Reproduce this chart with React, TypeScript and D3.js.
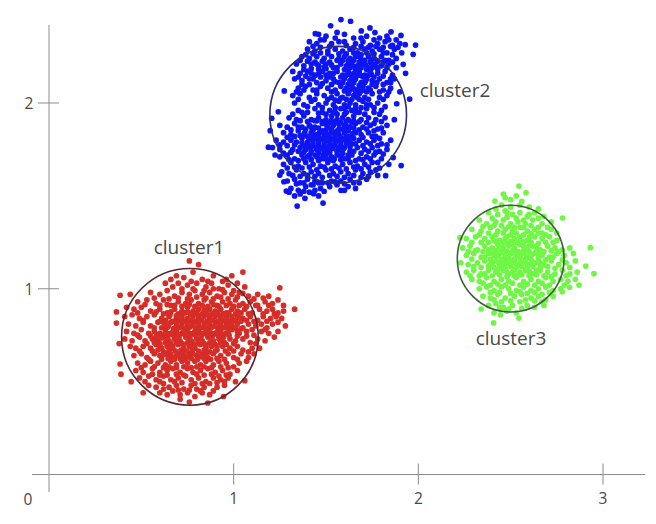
import React, { useEffect, useRef } from 'react';
import * as d3 from 'd3';

const xTicks = [1, 2, 3];
const yTicks = [1, 2];
const clusterNames = ['cluster1', 'cluster2', 'cluster3'];
const clusterCenters = [[0.763, 0.741], [1.566, 1.937], [2.5, 1.162]];
const clusterRadii = [0.37, 0.37, 0.289];
const clusterColors = ['#d62d28', '#0a14f2', '#6ff745'];
const ringColors = ['#5c2630', '#2b2c72', '#3f5f3c'];

const redPoints = [
	[.76,1.15],[.81,1.13],[1.05,1.09],[1.25,1.005],[1.33,.89],[1.27,.91],[1.28,.8],[1.24,.77],[.385,.965],[.44,.97],[.365,.875],[.365,.815],[.38,.705],[.385,.595],[.39,.54],[.445,.5],[.51,.44],[.86,.385],[.945,.42],[1.06,.505],[.76,.39],[.71,.405],
	[.69,1.07],[.73,1.06],[.78,1.09],[.83,1.05],[.89,1.07],[.94,1.04],[.99,1.07],
	[.63,1.03],[.67,1.01],[.7,1.03],[.75,1.02],[.8,1.03],[.85,1.01],[.88,1.03],[.92,1.0],[.97,1.02],[1.02,1.03],[1.06,1.01],
	[.55,.98],[.6,.97],[.64,.99],[.68,.96],[.72,.98],[.76,.97],[.79,.99],[.83,.97],[.87,.98],[.91,.96],[.95,.98],[.99,.97],[1.03,.98],[1.08,.96],[1.13,.97],[1.19,.96],
	[.48,.93],[.53,.94],[.58,.92],[.62,.94],[.66,.91],[.7,.93],[.74,.92],[.77,.94],[.81,.92],[.84,.94],[.88,.93],[.91,.91],[.94,.93],[.98,.92],[1.01,.94],[1.05,.92],[1.09,.93],[1.13,.91],[1.17,.93],[1.21,.92],[1.24,.94],
	[.42,.9],[.46,.89],[.5,.9],[.55,.88],[.6,.89],[.64,.87],[.68,.89],[.72,.88],[.75,.9],[.78,.88],[.81,.89],[.84,.87],[.87,.89],[.9,.88],[.93,.89],[.96,.87],[.99,.89],[1.02,.88],[1.06,.89],[1.1,.87],[1.14,.89],[1.18,.88],[1.21,.89],[1.24,.87],[1.27,.88],
	[.41,.85],[.45,.86],[.49,.84],[.53,.85],[.57,.86],[.61,.84],[.65,.85],[.69,.84],[.72,.86],[.75,.84],[.78,.85],[.81,.84],[.84,.85],[.87,.84],[.9,.85],[.93,.84],[.96,.85],[.99,.83],[1.02,.85],[1.05,.84],[1.09,.85],[1.13,.83],[1.16,.85],[1.2,.84],[1.23,.85],[1.26,.84],
	[.43,.81],[.47,.8],[.51,.82],[.55,.8],[.59,.82],[.63,.8],[.66,.82],[.69,.8],[.72,.81],[.75,.8],[.78,.82],[.81,.8],[.84,.81],[.87,.8],[.9,.82],[.93,.8],[.96,.81],[.99,.8],[1.02,.81],[1.05,.79],[1.08,.81],[1.12,.8],[1.15,.81],[1.18,.79],[1.21,.81],
	[.42,.77],[.46,.76],[.5,.78],[.54,.76],[.57,.77],[.6,.76],[.63,.78],[.66,.76],[.69,.77],[.72,.76],[.75,.78],[.78,.76],[.81,.77],[.84,.76],[.87,.78],[.9,.76],[.93,.77],[.96,.76],[.99,.78],[1.03,.76],[1.07,.77],[1.11,.75],[1.15,.77],[1.19,.76],[1.22,.74],
	[.41,.73],[.45,.72],[.49,.74],[.52,.72],[.56,.73],[.59,.72],[.62,.74],[.65,.72],[.68,.73],[.71,.72],[.74,.74],[.77,.72],[.8,.73],[.83,.72],[.86,.74],[.89,.72],[.92,.73],[.95,.71],[.98,.73],[1.01,.72],[1.05,.73],[1.09,.71],[1.13,.73],[1.17,.72],
	[.44,.69],[.47,.68],[.51,.69],[.55,.68],[.58,.7],[.61,.68],[.64,.69],[.67,.68],[.7,.7],[.73,.68],[.76,.69],[.79,.68],[.82,.7],[.85,.68],[.88,.69],[.91,.67],[.94,.69],[.98,.68],[1.02,.69],[1.05,.67],[1.1,.68],[1.14,.68],
	[.46,.64],[.5,.65],[.53,.63],[.57,.65],[.6,.64],[.64,.65],[.67,.63],[.7,.65],[.73,.64],[.76,.65],[.8,.64],[.83,.65],[.86,.63],[.89,.65],[.93,.64],[.97,.65],[1.0,.63],[1.04,.65],[1.08,.63],[1.11,.65],
	[.48,.6],[.52,.59],[.55,.61],[.59,.6],[.63,.59],[.66,.61],[.69,.59],[.72,.61],[.75,.6],[.79,.61],[.82,.59],[.85,.61],[.89,.59],[.92,.61],[.96,.6],[1.0,.58],[1.03,.6],[1.07,.61],
	[.47,.56],[.51,.55],[.56,.57],[.6,.55],[.64,.56],[.67,.57],[.71,.55],[.75,.57],[.78,.55],[.82,.56],[.86,.57],[.9,.55],[.94,.56],[.98,.54],[1.02,.56],
	[.49,.52],[.54,.53],[.58,.51],[.62,.53],[.66,.51],[.7,.52],[.74,.53],[.77,.51],[.81,.52],[.85,.5],[.89,.52],[.93,.51],[.97,.52],[1.01,.5],
	[.54,.48],[.58,.47],[.62,.49],[.65,.47],[.69,.48],[.73,.46],[.77,.48],[.8,.46],[.84,.47],[.87,.49],[.91,.47],[.95,.48],
	[.6,.44],[.64,.43],[.67,.45],[.71,.43],[.75,.44],[.79,.42],[.83,.44],[.87,.43],
];

// second pass over the red cloud, the busy middle
const redCore = [
	[.66,1.05],[.77,1.04],[.86,1.04],[.96,1.05],[.72,1.0],[.78,1.0],[.84,.99],[.89,1.0],[.94,.995],[1.0,.99],[1.05,.975],
	[.57,.95],[.65,.945],[.7,.95],[.75,.945],[.8,.955],[.85,.95],[.89,.945],[.93,.955],[.97,.945],[1.02,.955],[1.11,.945],[1.16,.95],
	[.52,.915],[.6,.91],[.64,.915],[.68,.91],[.72,.905],[.76,.915],[.79,.905],[.83,.91],[.86,.905],[.89,.915],[.92,.905],[.96,.91],[1.0,.905],[1.03,.91],[1.07,.905],[1.12,.91],[1.19,.91],
	[.48,.87],[.58,.875],[.62,.865],[.66,.875],[.7,.865],[.735,.87],[.765,.865],[.8,.87],[.83,.865],[.855,.87],[.885,.865],[.915,.87],[.945,.865],[.975,.87],[1.01,.865],[1.04,.87],[1.08,.865],[1.16,.865],[1.22,.865],
	[.51,.83],[.6,.825],[.63,.83],[.67,.825],[.705,.83],[.735,.825],[.765,.83],[.795,.825],[.825,.83],[.855,.825],[.885,.83],[.915,.825],[.945,.83],[.975,.825],[1.01,.83],[1.04,.825],[1.07,.83],[1.11,.825],[1.18,.825],[1.24,.82],
	[.57,.79],[.61,.79],[.645,.795],[.675,.785],[.705,.79],[.735,.785],[.765,.795],[.795,.785],[.825,.79],[.855,.785],[.885,.795],[.915,.785],[.945,.79],[.975,.785],[1.01,.79],[1.04,.785],[1.1,.78],[1.17,.78],
	[.48,.75],[.55,.745],[.585,.75],[.615,.755],[.645,.745],[.675,.75],[.705,.745],[.735,.755],[.765,.745],[.795,.75],[.825,.745],[.855,.755],[.885,.745],[.915,.75],[.945,.74],[.975,.75],[1.02,.745],[1.07,.745],
	[.53,.705],[.57,.71],[.6,.705],[.63,.71],[.66,.705],[.69,.71],[.72,.705],[.75,.71],[.78,.705],[.81,.71],[.84,.705],[.87,.71],[.9,.7],[.93,.71],[.96,.7],[1.0,.705],[1.12,.705],
	[.49,.665],[.56,.665],[.59,.67],[.62,.66],[.65,.67],[.685,.665],[.715,.67],[.745,.665],[.775,.67],[.81,.665],[.84,.67],[.87,.66],[.9,.665],[.955,.665],[1.0,.665],[1.08,.66],
	[.54,.62],[.61,.62],[.645,.625],[.68,.62],[.71,.625],[.74,.62],[.77,.625],[.805,.62],[.84,.625],[.875,.62],[.91,.625],[.95,.62],[1.02,.62],
	[.5,.575],[.57,.58],[.62,.575],[.65,.58],[.69,.575],[.73,.58],[.77,.575],[.8,.58],[.84,.58],[.88,.575],[.93,.58],[.97,.575],
	[.56,.54],[.6,.535],[.64,.535],[.69,.54],[.73,.535],[.8,.54],[.84,.535],[.88,.54],[.92,.53],[.96,.535],
	[.52,.5],[.6,.5],[.68,.5],[.72,.495],[.79,.49],[.83,.49],[.91,.495],[.95,.5],
	[.62,.46],[.7,.455],[.76,.455],[.82,.45],[.89,.45],
	// the solid patch
	[.655,.86],[.69,.855],[.72,.845],[.75,.875],[.78,.865],[.81,.855],[.84,.885],[.87,.855],[.9,.865],[.93,.855],[.96,.835],[.99,.85],[1.03,.845],
	[.62,.82],[.65,.81],[.69,.815],[.72,.795],[.75,.82],[.78,.805],[.81,.82],[.84,.795],[.87,.82],[.9,.8],[.93,.815],[.96,.795],[.99,.815],[1.02,.77],
	[.58,.74],[.61,.735],[.64,.76],[.67,.765],[.7,.755],[.73,.77],[.76,.76],[.79,.77],[.82,.76],[.85,.77],[.88,.76],[.91,.765],[.94,.755],[.97,.77],
	[.6,.695],[.64,.725],[.67,.69],[.7,.72],[.73,.7],[.76,.725],[.79,.695],[.82,.72],[.85,.695],[.88,.72],[.91,.69],[.94,.725],
	[.62,.645],[.66,.65],[.69,.64],[.72,.655],[.75,.635],[.78,.65],[.82,.635],[.85,.65],
];

const bluePoints = [
	[1.581,2.449],[1.633,2.44],[1.525,2.416],[1.738,2.404],[1.691,2.388],[1.765,2.379],[1.852,2.383],[1.906,2.364],[1.442,2.373],[1.985,2.312],[1.972,2.262],[1.929,2.314],[1.918,2.208],[1.931,2.16],[1.953,2.021],[1.883,1.996],[1.274,2.065],[1.242,1.953],[1.206,1.918],[1.198,1.851],[1.188,1.762],[1.224,1.72],[1.25,1.612],[1.272,1.576],[1.285,1.526],[1.344,1.445],[1.386,1.487],[1.484,1.461],[1.433,1.512],[1.581,1.53],[1.907,1.663],[1.864,1.706],[1.823,1.609],
	[1.46,2.37],[1.5,2.36],[1.56,2.38],[1.6,2.37],[1.65,2.35],[1.72,2.36],[1.79,2.35],[1.83,2.36],[1.88,2.34],
	[1.41,2.33],[1.45,2.32],[1.49,2.34],[1.53,2.32],[1.57,2.33],[1.61,2.31],[1.66,2.32],[1.7,2.33],[1.74,2.31],[1.78,2.32],[1.82,2.33],[1.86,2.31],[1.9,2.32],
	[1.4,2.29],[1.44,2.28],[1.47,2.3],[1.51,2.28],[1.55,2.29],[1.59,2.28],[1.63,2.29],[1.67,2.27],[1.71,2.29],[1.75,2.28],[1.79,2.29],[1.83,2.27],[1.87,2.29],[1.91,2.27],
	[1.37,2.25],[1.41,2.24],[1.45,2.25],[1.49,2.24],[1.53,2.25],[1.56,2.23],[1.6,2.25],[1.63,2.24],[1.66,2.25],[1.7,2.23],[1.73,2.25],[1.76,2.24],[1.8,2.25],[1.84,2.23],[1.88,2.24],
	[1.34,2.21],[1.38,2.2],[1.42,2.21],[1.46,2.2],[1.5,2.21],[1.54,2.19],[1.58,2.21],[1.61,2.2],[1.64,2.21],[1.67,2.2],[1.7,2.21],[1.73,2.19],[1.76,2.21],[1.8,2.2],[1.84,2.21],[1.88,2.19],
	[1.32,2.17],[1.36,2.16],[1.4,2.17],[1.44,2.15],[1.48,2.17],[1.52,2.16],[1.56,2.17],[1.59,2.15],[1.62,2.17],[1.65,2.16],[1.68,2.17],[1.71,2.15],[1.74,2.17],[1.78,2.16],[1.82,2.17],[1.86,2.15],
	[1.33,2.13],[1.37,2.12],[1.41,2.13],[1.45,2.11],[1.5,2.12],[1.54,2.13],[1.57,2.11],[1.6,2.13],[1.63,2.12],[1.66,2.13],[1.69,2.11],[1.72,2.13],[1.75,2.12],[1.79,2.13],[1.83,2.11],[1.87,2.13],
	[1.35,2.08],[1.39,2.09],[1.43,2.07],[1.47,2.09],[1.51,2.08],[1.55,2.07],[1.58,2.09],[1.61,2.08],[1.64,2.09],[1.67,2.07],[1.7,2.09],[1.73,2.08],[1.77,2.09],[1.81,2.07],[1.85,2.08],[1.9,2.06],
	[1.32,2.04],[1.36,2.05],[1.41,2.03],[1.45,2.05],[1.49,2.04],[1.53,2.03],[1.56,2.05],[1.59,2.03],[1.62,2.05],[1.65,2.04],[1.68,2.05],[1.71,2.03],[1.75,2.05],[1.79,2.03],[1.83,2.04],
	[1.33,2.0],[1.38,1.99],[1.42,2.01],[1.46,1.99],[1.5,2.0],[1.54,1.99],[1.57,2.01],[1.6,1.99],[1.63,2.0],[1.66,1.99],[1.7,2.01],[1.74,1.99],[1.78,2.0],[1.82,1.98],
	[1.35,1.96],[1.4,1.95],[1.44,1.97],[1.48,1.95],[1.52,1.96],[1.55,1.95],[1.58,1.97],[1.61,1.95],[1.64,1.96],[1.68,1.95],[1.72,1.97],[1.76,1.95],[1.8,1.96],
	[1.3,1.92],[1.34,1.91],[1.38,1.93],[1.42,1.91],[1.46,1.92],[1.5,1.91],[1.53,1.93],[1.56,1.91],[1.59,1.92],[1.62,1.91],[1.65,1.93],[1.69,1.91],[1.73,1.92],[1.77,1.91],[1.82,1.92],[1.87,1.91],
	[1.25,1.88],[1.29,1.87],[1.33,1.89],[1.37,1.87],[1.41,1.88],[1.44,1.87],[1.48,1.89],[1.51,1.87],[1.54,1.88],[1.57,1.86],[1.6,1.88],[1.63,1.87],[1.66,1.89],[1.7,1.87],[1.74,1.88],[1.78,1.86],[1.83,1.88],
	[1.27,1.84],[1.31,1.83],[1.35,1.85],[1.38,1.83],[1.42,1.84],[1.45,1.83],[1.48,1.85],[1.51,1.83],[1.54,1.84],[1.57,1.83],[1.6,1.84],[1.63,1.82],[1.66,1.84],[1.69,1.83],[1.73,1.84],[1.77,1.82],[1.81,1.84],
	[1.23,1.8],[1.27,1.79],[1.31,1.8],[1.34,1.79],[1.37,1.81],[1.4,1.79],[1.43,1.8],[1.46,1.79],[1.49,1.81],[1.52,1.79],[1.55,1.8],[1.58,1.79],[1.61,1.8],[1.64,1.78],[1.68,1.8],[1.72,1.79],[1.76,1.8],[1.8,1.78],[1.85,1.8],
	[1.21,1.76],[1.25,1.75],[1.29,1.77],[1.32,1.75],[1.36,1.76],[1.39,1.75],[1.42,1.77],[1.45,1.75],[1.48,1.76],[1.51,1.75],[1.54,1.77],[1.57,1.75],[1.6,1.76],[1.63,1.74],[1.67,1.76],[1.71,1.75],[1.75,1.76],[1.79,1.74],[1.83,1.75],
	[1.25,1.71],[1.29,1.72],[1.33,1.7],[1.37,1.72],[1.4,1.71],[1.44,1.72],[1.47,1.7],[1.5,1.72],[1.53,1.71],[1.56,1.72],[1.6,1.7],[1.64,1.72],[1.68,1.7],[1.72,1.71],[1.76,1.72],[1.8,1.7],
	[1.27,1.67],[1.31,1.68],[1.35,1.66],[1.39,1.68],[1.43,1.67],[1.47,1.66],[1.51,1.68],[1.55,1.66],[1.59,1.67],[1.63,1.68],[1.67,1.66],[1.71,1.67],[1.75,1.68],[1.79,1.65],[1.84,1.67],
	[1.26,1.63],[1.3,1.62],[1.34,1.64],[1.38,1.62],[1.42,1.63],[1.46,1.62],[1.5,1.64],[1.54,1.62],[1.58,1.63],[1.62,1.62],[1.66,1.64],[1.7,1.62],[1.74,1.63],[1.78,1.61],
	[1.29,1.58],[1.33,1.59],[1.36,1.57],[1.4,1.59],[1.44,1.58],[1.48,1.57],[1.53,1.58],[1.58,1.58],[1.63,1.59],[1.68,1.57],[1.72,1.59],
	[1.31,1.54],[1.35,1.53],[1.39,1.55],[1.43,1.56],[1.47,1.54],[1.52,1.55],[1.56,1.56],[1.62,1.55],[1.66,1.54],
	[1.33,1.5],[1.36,1.51],[1.41,1.52],[1.46,1.5],
];

// second pass over the blue cloud: upper lobe, lower lobe
const blueCore = [
	[1.47,2.34],[1.55,2.35],[1.69,2.35],[1.76,2.34],[1.84,2.34],
	[1.43,2.305],[1.52,2.305],[1.6,2.33],[1.65,2.3],[1.69,2.305],[1.73,2.3],[1.77,2.305],[1.81,2.3],[1.85,2.305],[1.89,2.3],
	[1.39,2.26],[1.43,2.265],[1.47,2.27],[1.51,2.265],[1.57,2.265],[1.61,2.265],[1.65,2.27],[1.69,2.26],[1.72,2.27],[1.76,2.265],[1.81,2.27],[1.86,2.26],
	[1.36,2.23],[1.4,2.225],[1.44,2.22],[1.48,2.225],[1.52,2.22],[1.59,2.23],[1.62,2.225],[1.65,2.23],[1.68,2.22],[1.71,2.23],[1.74,2.22],[1.78,2.225],[1.82,2.23],[1.86,2.22],
	[1.38,2.18],[1.42,2.185],[1.46,2.18],[1.5,2.185],[1.56,2.19],[1.6,2.18],[1.63,2.19],[1.66,2.18],[1.69,2.19],[1.72,2.18],[1.75,2.19],[1.78,2.18],[1.83,2.19],
	[1.35,2.14],[1.39,2.145],[1.43,2.13],[1.47,2.14],[1.52,2.14],[1.58,2.14],[1.61,2.15],[1.64,2.14],[1.67,2.15],[1.7,2.14],[1.73,2.15],[1.76,2.14],[1.81,2.145],[1.85,2.13],
	[1.37,2.1],[1.41,2.1],[1.48,2.105],[1.53,2.1],[1.59,2.11],[1.62,2.1],[1.65,2.11],[1.68,2.095],[1.71,2.11],[1.75,2.1],[1.81,2.1],[1.85,2.11],
	[1.34,2.06],[1.38,2.07],[1.45,2.07],[1.53,2.06],[1.6,2.065],[1.63,2.07],[1.66,2.06],[1.69,2.065],[1.72,2.06],[1.79,2.06],[1.84,2.06],
	[1.35,2.02],[1.44,2.02],[1.51,2.02],[1.58,2.025],[1.64,2.02],[1.68,2.02],[1.73,2.02],[1.81,2.02],
	[1.4,1.98],[1.48,1.975],[1.55,1.975],[1.62,1.98],[1.69,1.975],[1.76,1.975],
	[1.32,1.94],[1.37,1.95],[1.46,1.945],[1.5,1.94],[1.56,1.94],[1.6,1.94],[1.66,1.95],[1.71,1.94],[1.79,1.94],
	[1.36,1.905],[1.4,1.9],[1.44,1.905],[1.48,1.9],[1.52,1.895],[1.55,1.9],[1.58,1.895],[1.61,1.9],[1.64,1.895],[1.68,1.9],[1.72,1.895],[1.76,1.89],[1.8,1.9],
	[1.31,1.855],[1.35,1.87],[1.39,1.86],[1.43,1.855],[1.46,1.865],[1.5,1.855],[1.53,1.86],[1.56,1.85],[1.59,1.86],[1.62,1.85],[1.65,1.865],[1.68,1.855],[1.72,1.86],[1.76,1.85],[1.8,1.865],
	[1.29,1.815],[1.33,1.82],[1.36,1.825],[1.4,1.82],[1.43,1.825],[1.46,1.815],[1.49,1.825],[1.52,1.815],[1.55,1.825],[1.58,1.815],[1.61,1.82],[1.65,1.81],[1.7,1.815],[1.75,1.82],[1.79,1.81],
	[1.25,1.775],[1.33,1.775],[1.37,1.785],[1.4,1.77],[1.43,1.78],[1.46,1.77],[1.49,1.78],[1.52,1.77],[1.55,1.785],[1.58,1.77],[1.61,1.78],[1.66,1.78],[1.7,1.77],[1.74,1.78],[1.78,1.77],[1.83,1.775],
	[1.27,1.73],[1.31,1.735],[1.35,1.74],[1.38,1.735],[1.42,1.74],[1.46,1.73],[1.49,1.74],[1.52,1.735],[1.56,1.74],[1.59,1.73],[1.65,1.74],[1.69,1.73],[1.73,1.74],[1.77,1.735],[1.81,1.725],
	[1.3,1.695],[1.35,1.69],[1.38,1.7],[1.42,1.695],[1.46,1.69],[1.49,1.7],[1.54,1.69],[1.58,1.695],[1.62,1.7],[1.66,1.69],[1.7,1.695],[1.74,1.7],[1.78,1.68],
	[1.29,1.65],[1.33,1.655],[1.37,1.65],[1.41,1.655],[1.45,1.64],[1.49,1.655],[1.53,1.645],[1.57,1.65],[1.61,1.645],[1.65,1.655],[1.69,1.645],[1.73,1.655],[1.77,1.64],
	[1.32,1.61],[1.36,1.605],[1.4,1.61],[1.44,1.605],[1.48,1.6],[1.52,1.61],[1.56,1.605],[1.6,1.6],[1.65,1.61],[1.69,1.6],[1.73,1.605],
	[1.34,1.565],[1.38,1.57],[1.42,1.56],[1.46,1.57],[1.51,1.57],[1.55,1.575],[1.6,1.565],[1.65,1.57],
	[1.3,1.52],[1.38,1.525],[1.44,1.53],[1.49,1.525],[1.6,1.53],
	// the solid patches
	[1.625,2.215],[1.655,2.195],[1.685,2.245],[1.715,2.205],[1.745,2.235],[1.775,2.195],[1.81,2.22],[1.625,2.155],[1.655,2.125],[1.685,2.15],[1.715,2.12],[1.745,2.155],[1.775,2.11],[1.655,2.075],[1.7,2.07],[1.74,2.07],
	[1.45,2.21],[1.49,2.195],[1.53,2.205],[1.57,2.24],[1.42,2.16],[1.46,2.155],[1.5,2.15],[1.54,2.16],[1.55,2.115],
	[1.55,2.015],[1.61,2.02],[1.67,2.03],[1.6,1.97],[1.54,1.95],[1.66,1.97],[1.72,1.99],
	[1.45,1.905],[1.5,1.885],[1.53,1.905],[1.57,1.885],[1.61,1.875],[1.65,1.905],[1.42,1.87],[1.465,1.84],[1.495,1.845],[1.53,1.845],[1.565,1.845],[1.615,1.86],[1.645,1.835],
	[1.385,1.84],[1.41,1.805],[1.445,1.81],[1.475,1.805],[1.505,1.8],[1.535,1.805],[1.565,1.8],[1.595,1.805],[1.625,1.8],[1.375,1.77],[1.415,1.76],[1.445,1.76],[1.475,1.755],[1.505,1.76],[1.535,1.755],[1.565,1.76],[1.595,1.755],[1.63,1.765],
	[1.41,1.72],[1.45,1.71],[1.485,1.72],[1.515,1.695],[1.545,1.7],[1.58,1.715],[1.62,1.72],
];

const greenPoints = [
	[2.545,1.553],[2.583,1.517],[2.46,1.51],[2.415,1.472],[2.781,1.381],[2.931,1.221],[2.951,1.081],[2.907,1.122],[2.87,1.02],[2.819,1.008],[2.779,.984],[2.545,.842],[2.408,.816],[2.445,.86],[2.34,.891],[2.225,1.275],
	[2.47,1.49],[2.5,1.48],[2.53,1.5],[2.56,1.47],[2.45,1.45],[2.5,1.44],[2.55,1.45],[2.6,1.44],[2.65,1.43],
	[2.38,1.41],[2.43,1.4],[2.47,1.42],[2.51,1.4],[2.55,1.41],[2.59,1.39],[2.63,1.41],[2.68,1.39],
	[2.33,1.37],[2.37,1.35],[2.42,1.36],[2.46,1.37],[2.5,1.35],[2.54,1.36],[2.58,1.35],[2.62,1.37],[2.67,1.35],[2.72,1.36],
	[2.29,1.32],[2.34,1.31],[2.39,1.33],[2.43,1.31],[2.47,1.32],[2.51,1.31],[2.55,1.33],[2.59,1.31],[2.63,1.32],[2.67,1.3],[2.72,1.32],[2.75,1.3],
	[2.26,1.27],[2.31,1.28],[2.36,1.27],[2.4,1.28],[2.44,1.26],[2.48,1.28],[2.52,1.27],[2.55,1.28],[2.59,1.26],[2.63,1.28],[2.67,1.27],[2.71,1.28],[2.75,1.26],
	[2.24,1.22],[2.28,1.23],[2.32,1.21],[2.36,1.23],[2.4,1.22],[2.43,1.24],[2.46,1.22],[2.49,1.23],[2.52,1.22],[2.55,1.24],[2.58,1.22],[2.62,1.23],[2.66,1.21],[2.7,1.23],[2.74,1.22],[2.78,1.21],[2.82,1.22],
	[2.26,1.18],[2.3,1.19],[2.34,1.17],[2.38,1.19],[2.41,1.18],[2.44,1.19],[2.47,1.17],[2.5,1.19],[2.53,1.18],[2.56,1.19],[2.59,1.17],[2.63,1.19],[2.67,1.18],[2.71,1.17],[2.75,1.19],[2.79,1.18],[2.84,1.19],
	[2.23,1.14],[2.27,1.13],[2.32,1.14],[2.36,1.15],[2.39,1.13],[2.42,1.15],[2.45,1.13],[2.48,1.14],[2.51,1.15],[2.54,1.13],[2.57,1.15],[2.6,1.13],[2.64,1.14],[2.68,1.13],[2.72,1.15],[2.76,1.13],[2.8,1.14],[2.85,1.15],
	[2.26,1.09],[2.3,1.1],[2.34,1.08],[2.38,1.1],[2.42,1.09],[2.46,1.1],[2.49,1.08],[2.52,1.1],[2.55,1.09],[2.58,1.1],[2.62,1.08],[2.66,1.1],[2.7,1.09],[2.74,1.08],[2.78,1.1],[2.82,1.08],[2.86,1.09],
	[2.29,1.05],[2.33,1.04],[2.37,1.06],[2.41,1.04],[2.45,1.05],[2.49,1.04],[2.53,1.06],[2.57,1.04],[2.61,1.05],[2.65,1.04],[2.69,1.06],[2.73,1.04],[2.77,1.05],[2.81,1.04],[2.85,1.05],
	[2.33,1.0],[2.37,1.01],[2.41,.99],[2.45,1.01],[2.49,1.0],[2.53,.99],[2.57,1.01],[2.61,.99],[2.65,1.0],[2.69,1.01],[2.73,.99],[2.77,1.0],
	[2.35,.96],[2.39,.95],[2.43,.97],[2.47,.95],[2.52,.96],[2.56,.97],[2.61,.95],[2.65,.96],[2.69,.94],[2.73,.96],
	[2.38,.91],[2.42,.92],[2.46,.9],[2.51,.91],[2.55,.93],[2.59,.91],[2.63,.9],[2.68,.91],
	[2.41,.87],[2.48,.88],[2.53,.87],
];

// second pass over the green cloud
const greenCore = [
	[2.42,1.43],[2.48,1.41],[2.53,1.38],[2.6,1.4],[2.4,1.38],[2.48,1.385],[2.52,1.33],[2.57,1.37],[2.65,1.38],
	[2.35,1.335],[2.41,1.34],[2.45,1.34],[2.49,1.335],[2.57,1.33],[2.61,1.34],[2.65,1.33],[2.7,1.33],
	[2.33,1.29],[2.38,1.3],[2.42,1.29],[2.46,1.3],[2.5,1.29],[2.53,1.3],[2.57,1.29],[2.61,1.295],[2.65,1.3],[2.69,1.29],
	[2.29,1.25],[2.34,1.25],[2.38,1.25],[2.42,1.255],[2.46,1.25],[2.5,1.255],[2.53,1.25],[2.57,1.255],[2.61,1.25],[2.65,1.245],[2.69,1.25],[2.73,1.25],
	[2.27,1.2],[2.31,1.205],[2.35,1.2],[2.38,1.21],[2.42,1.205],[2.45,1.205],[2.48,1.2],[2.51,1.205],[2.54,1.2],[2.57,1.205],[2.6,1.2],[2.64,1.205],[2.68,1.2],[2.72,1.205],[2.76,1.2],
	[2.29,1.16],[2.36,1.17],[2.39,1.16],[2.42,1.17],[2.45,1.16],[2.49,1.165],[2.52,1.16],[2.55,1.165],[2.58,1.16],[2.61,1.16],[2.65,1.165],[2.69,1.155],[2.73,1.17],[2.78,1.155],
	[2.3,1.12],[2.34,1.115],[2.38,1.12],[2.41,1.115],[2.44,1.12],[2.47,1.115],[2.5,1.12],[2.53,1.115],[2.56,1.12],[2.59,1.115],[2.62,1.12],[2.66,1.115],[2.7,1.12],[2.74,1.11],[2.82,1.115],
	[2.28,1.07],[2.33,1.07],[2.36,1.08],[2.4,1.07],[2.44,1.075],[2.48,1.065],[2.52,1.07],[2.56,1.075],[2.6,1.07],[2.64,1.075],[2.68,1.07],[2.72,1.065],[2.8,1.07],
	[2.35,1.03],[2.39,1.02],[2.43,1.025],[2.47,1.02],[2.51,1.03],[2.55,1.02],[2.59,1.025],[2.63,1.02],[2.67,1.03],[2.71,1.02],[2.79,1.02],
	[2.39,.98],[2.44,.98],[2.5,.975],[2.55,.985],[2.59,.975],[2.63,.98],[2.67,.97],[2.71,.98],
	[2.41,.94],[2.45,.93],[2.5,.935],[2.58,.94],[2.63,.935],[2.67,.93],
	[2.44,.9],[2.49,.89],[2.56,.895],
	// the solid patch
	[2.41,1.26],[2.47,1.27],[2.51,1.24],[2.55,1.26],[2.6,1.275],[2.44,1.225],[2.48,1.245],[2.57,1.23],[2.6,1.23],[2.64,1.23],
	[2.4,1.19],[2.43,1.18],[2.46,1.195],[2.49,1.18],[2.52,1.195],[2.55,1.175],[2.58,1.19],[2.61,1.18],[2.65,1.185],
	[2.4,1.14],[2.435,1.14],[2.465,1.145],[2.495,1.135],[2.525,1.14],[2.555,1.14],[2.585,1.135],[2.62,1.145],[2.66,1.14],
	[2.43,1.1],[2.475,1.095],[2.51,1.09],[2.54,1.075],[2.6,1.095],[2.64,1.1],
];

const clusterPoints = [[...redPoints, ...redCore], [...bluePoints, ...blueCore], [...greenPoints, ...greenCore]];

const App = () => {
	const ref = useRef(null);

	useEffect(() => {
		const svg = d3.select(ref.current);
		svg.selectAll('*').remove();

		const xScale = d3.scaleLinear().domain([0, 3]).range([49, 603]);
		const yScale = d3.scaleLinear().domain([0, 2]).range([474.5, 103]);
		const font = '"Open Sans", "Noto Sans", sans-serif';
		const axisColor = '#8c8c8c';
		const labelColor = '#484848';

		// the original is a slightly soft screenshot
		svg.append('defs').append('filter').attr('id', 'soft')
			.append('feGaussianBlur').attr('stdDeviation', 0.35);

		// axis lines run past the origin, like the original
		svg.append('line').attr('x1', 32).attr('x2', 645).attr('y1', yScale(0)).attr('y2', yScale(0)).attr('stroke', axisColor);
		svg.append('line').attr('x1', xScale(0)).attr('x2', xScale(0)).attr('y1', 25).attr('y2', 492).attr('stroke', axisColor);

		svg.selectAll('.xtick').data(xTicks).enter().append('line')
			.attr('class', 'xtick')
			.attr('x1', d => xScale(d)).attr('x2', d => xScale(d))
			.attr('y1', yScale(0) - 11).attr('y2', yScale(0) + 10)
			.attr('stroke', axisColor);
		svg.selectAll('.ytick').data(yTicks).enter().append('line')
			.attr('class', 'ytick')
			.attr('x1', xScale(0) - 11).attr('x2', xScale(0) + 10)
			.attr('y1', d => yScale(d)).attr('y2', d => yScale(d))
			.attr('stroke', axisColor);

		svg.selectAll('.xlabel').data(xTicks).enter().append('text')
			.attr('class', 'xlabel')
			.attr('x', d => xScale(d)).attr('y', 504)
			.attr('text-anchor', 'middle').attr('font-family', font).attr('font-size', 15.5).attr('fill', labelColor)
			.text(d => d);
		svg.selectAll('.ylabel').data(yTicks).enter().append('text')
			.attr('class', 'ylabel')
			.attr('x', 29).attr('y', d => yScale(d) + 6)
			.attr('text-anchor', 'middle').attr('font-family', font).attr('font-size', 15.5).attr('fill', labelColor)
			.text(d => d);
		svg.append('text')
			.attr('x', 28).attr('y', 505)
			.attr('text-anchor', 'middle').attr('font-family', font).attr('font-size', 15.5).attr('fill', labelColor)
			.text(0);

		clusterPoints.forEach((points, i) => {
			svg.append('g').attr('filter', 'url(#soft)').selectAll('circle').data(points).enter().append('circle')
				.attr('cx', d => xScale(d[0]))
				.attr('cy', d => yScale(d[1]))
				.attr('r', 2.85)
				.attr('fill', clusterColors[i]);
		});

		clusterCenters.forEach((c, i) => {
			svg.append('circle')
				.attr('cx', xScale(c[0]))
				.attr('cy', yScale(c[1]))
				.attr('r', xScale(clusterRadii[i]) - xScale(0))
				.attr('fill', 'none')
				.attr('stroke', ringColors[i])
				.attr('stroke-width', 1.6);
		});

		const labelSpots = [[189, 254], [455, 97], [511, 345]];
		clusterNames.forEach((name, i) => {
			svg.append('text')
				.attr('x', labelSpots[i][0]).attr('y', labelSpots[i][1])
				.attr('text-anchor', 'middle')
				.attr('font-family', font).attr('font-size', 19).attr('fill', labelColor)
				.text(name);
		});
	}, []);

	return <svg ref={ref} width={656} height={524} style={{ position: 'absolute', left: 0, top: 0 }} />;
};

export default App;
